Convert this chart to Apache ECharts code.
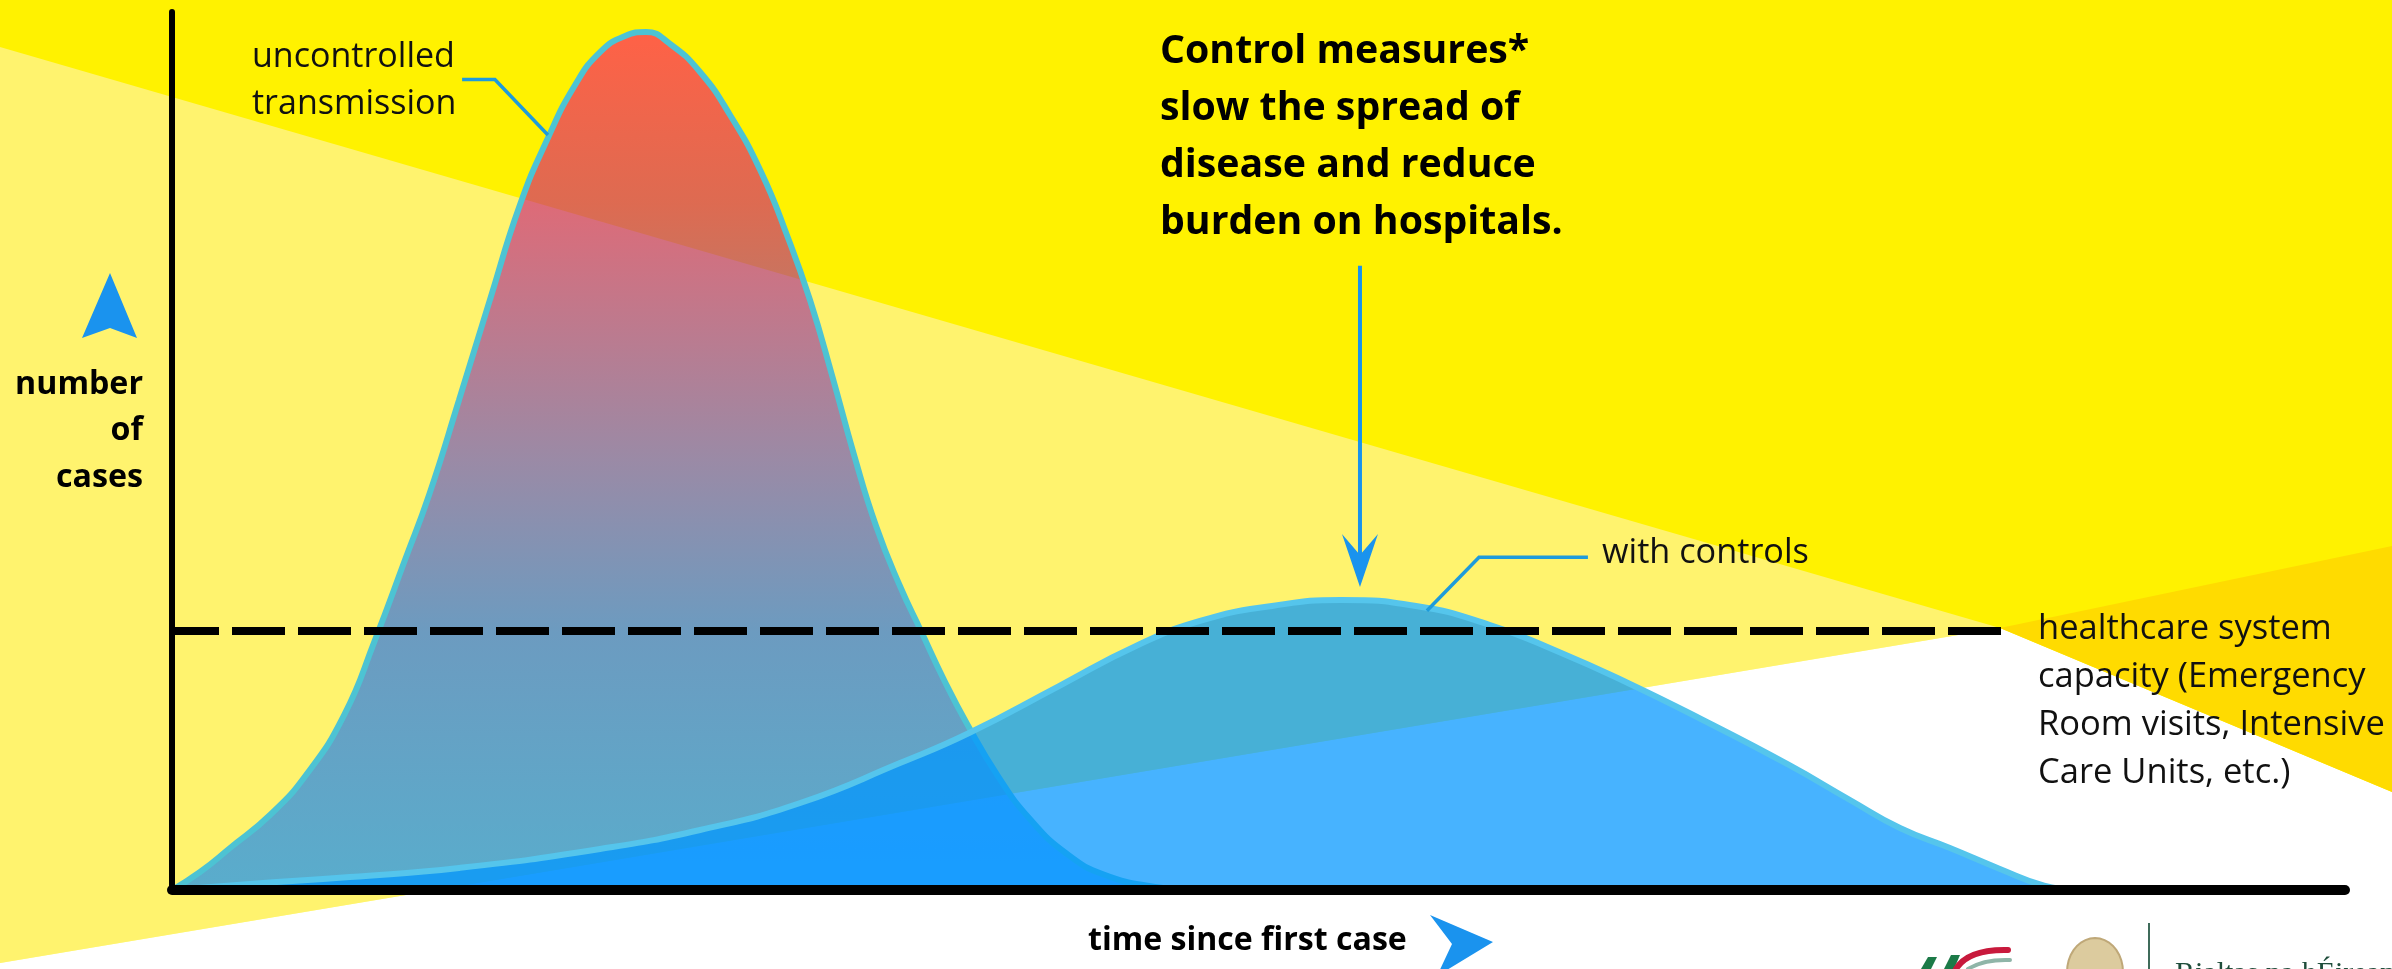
<!DOCTYPE html>
<html>
<head>
<meta charset="utf-8">
<style>
html,body{margin:0;padding:0;background:#FFF200;overflow:hidden}
#c{width:2392px;height:969px}
</style>
<script src="https://cdn.jsdelivr.net/npm/echarts@6.0.0/dist/echarts.min.js"></script>
</head>
<body>
<div id="c"></div>
<script>
// ---------------- DATA ----------------
const uncontrolledX = [0, 1.29, 2.67, 4.51, 6.17, 7.92, 9.34, 10.72, 11.83, 13.21, 14.63, 16.01, 17.30, 18.55, 19.70, 20.85, 21.81, 22.92, 24.30, 25.68, 27.11, 28.35, 29.36, 30.37, 31.39, 32.40, 33.50, 34.47, 35.53, 36.59, 38.01, 39.44, 41.19, 42.94, 45.24, 46.85];
const uncontrolledY = [0, 2.05, 4.78, 8.54, 13.10, 19.93, 28.47, 37.59, 44.99, 55.81, 67.20, 78.02, 85.65, 91.69, 95.44, 97.27, 97.72, 96.36, 93.17, 88.27, 81.78, 74.26, 67.20, 58.66, 49.54, 41.46, 34.62, 29.50, 23.92, 18.91, 12.98, 8.20, 4.10, 1.71, 0.34, 0];
const withControlsX = [0, 3.59, 8.19, 13.21, 19.70, 24.30, 28.91, 33.50, 36.68, 40.82, 44.36, 47.31, 50.62, 53.80, 57.25, 60.65, 63.83, 67.00, 70.45, 74.41, 77.22, 79.52, 81.82, 84.12, 86.15, 87.58];
const withControlsY = [0, 0.68, 1.48, 2.51, 4.67, 6.83, 9.91, 14.46, 17.88, 23.23, 27.79, 30.64, 32.35, 33.03, 32.35, 30.18, 27.11, 23.58, 19.36, 14.24, 10.25, 7.06, 4.78, 2.40, 0.50, 0];
const capacityX = [0, 84.5];
const capacityY = [29.5, 29.5];

const labelUncontrolled = ['uncontrolled', 'transmission'];
const labelHeading = ['Control measures*', 'slow the spread of', 'disease and reduce', 'burden on hospitals.'];
const labelControls = ['with controls'];
const labelCapacity = ['healthcare system', 'capacity (Emergency', 'Room visits, Intensive', 'Care Units, etc.)'];
const labelYAxis = ['number', 'of', 'cases'];
const labelXAxis = ['time since first case'];
const labelLogo = ['Rialtas na hÉireann'];

// ---------------- LAYOUT / STYLE ----------------
const SANS = '"Open Sans", "Noto Sans", sans-serif';
const SERIF = '"Liberation Serif", "DejaVu Serif", serif';
const ARROW_BLUE = '#1A93EE';
const LEADER = '#1E9BDB';

const chart = echarts.init(document.getElementById('c'), null, {renderer: 'canvas', width: 2392, height: 969});
const zip = (xs, ys) => xs.map((x, i) => [x, ys[i]]);

const redGrad = new echarts.graphic.LinearGradient(0, 0, 0, 1, [
  {offset: 0, color: 'rgba(255,20,108,0.65)'},
  {offset: 0.2, color: 'rgba(203,34,125,0.65)'},
  {offset: 0.5, color: 'rgba(100,82,196,0.65)'},
  {offset: 0.7, color: 'rgba(29,108,236,0.65)'},
  {offset: 1, color: 'rgba(0,135,255,0.65)'}
]);

chart.setOption({
  animation: false,
  backgroundColor: '#FFF200',
  grid: {left: 172, right: 47, top: 12, bottom: 79, containLabel: false, outerBoundsMode: 'none'},
  xAxis: {
    type: 'value', min: 0, max: 100, z: 10,
    axisLine: {show: true, onZero: false, lineStyle: {color: '#000', width: 10}},
    axisTick: {show: false}, axisLabel: {show: false}, splitLine: {show: false}
  },
  yAxis: {
    type: 'value', min: 0, max: 100, z: 10,
    axisLine: {show: true, onZero: false, lineStyle: {color: '#000', width: 6}},
    axisTick: {show: false}, axisLabel: {show: false}, splitLine: {show: false}
  },
  series: [
    {
      name: 'uncontrolled transmission', type: 'line', data: zip(uncontrolledX, uncontrolledY),
      smooth: 0.5, symbol: 'none', showSymbol: false, z: 2,
      lineStyle: {color: '#4DC3D3', width: 6},
      areaStyle: {color: redGrad, opacity: 1}
    },
    {
      name: 'with controls', type: 'line', data: zip(withControlsX, withControlsY),
      smooth: 0.5, symbol: 'none', showSymbol: false, z: 3,
      lineStyle: {color: '#55C5EC', width: 6},
      areaStyle: {color: 'rgba(0,150,255,0.72)', opacity: 1}
    },
    {
      name: 'healthcare system capacity', type: 'line', data: zip(capacityX, capacityY),
      symbol: 'none', showSymbol: false, z: 4,
      lineStyle: {color: '#000', width: 8, type: [53, 13], dashOffset: 6}
    }
  ]
});

// ---------- annotations ----------
const mctx = document.createElement('canvas').getContext('2d');
function fitSize(ref, weight, family, target) {
  mctx.font = weight + ' 100px ' + family;
  return 100 * target / mctx.measureText(ref).width;
}
function midOffset(weight, size, family) {
  mctx.font = weight + ' ' + size + 'px ' + family;
  mctx.textBaseline = 'alphabetic';
  const m = mctx.measureText('Hxg');
  const a = m.fontBoundingBoxAscent, d = m.fontBoundingBoxDescent;
  return (a != null && d != null) ? (a - d) / 2 : size * 0.36;
}
function textBlock(lines, o) {
  const size = o.size || fitSize(o.ref, o.weight, o.family, o.target);
  const off = midOffset(o.weight, size, o.family);
  return lines.map((t, i) => ({
    type: 'text', x: o.x, y: o.baseline + i * (o.spacing || 0) - off, z: 100, silent: true,
    style: {
      text: t, fill: o.fill || '#111', fontSize: size, fontFamily: o.family, fontWeight: o.weight,
      align: o.align || 'left', verticalAlign: 'middle', textAlign: o.align || 'left', textVerticalAlign: 'middle'
    }
  }));
}
const px = p => chart.convertToPixel({gridIndex: 0}, p);

// annotation anchors in data space
const leaderUncontrolled = [[13.35, 92.3], [14.86, 92.3], [17.30, 86.0]];
const leaderControls = [[65.16, 37.9], [60.15, 37.9], [57.75, 31.8]];
const controlArrowFrom = [54.67, 71.1];
const controlArrowTo = [54.67, 34.5];

const tip = px(controlArrowTo), from = px(controlArrowFrom);

// harp outline (half-ellipse) for the logo fragment
const harpPts = [];
for (let a = 0; a <= 180; a += 10) {
  const r = a * Math.PI / 180;
  harpPts.push([2095 + 28 * Math.cos(r), 972 - 34 * Math.sin(r)]);
}

const graphics = [
  // background rays
  {type: 'polygon', z: -10, silent: true, shape: {points: [[0, 47], [2000, 628], [0, 963]]}, style: {fill: '#FFF36E'}},
  {type: 'polygon', z: -10, silent: true, shape: {points: [[0, 963], [2000, 628], [2392, 792], [2392, 969], [0, 969]]}, style: {fill: '#FFFFFF'}},
  {type: 'polygon', z: -10, silent: true, shape: {points: [[2000, 628], [2392, 546], [2392, 792]]}, style: {fill: '#FFDB00'}},

  // leaders
  {type: 'polyline', z: 90, silent: true, shape: {points: leaderUncontrolled.map(px)}, style: {stroke: LEADER, lineWidth: 3.5, fill: null}},
  {type: 'polyline', z: 90, silent: true, shape: {points: leaderControls.map(px)}, style: {stroke: LEADER, lineWidth: 3.5, fill: null}},

  // control measures arrow
  {type: 'line', z: 90, silent: true, shape: {x1: from[0], y1: from[1], x2: tip[0], y2: tip[1] - 30}, style: {stroke: ARROW_BLUE, lineWidth: 4}},
  {type: 'polygon', z: 90, silent: true, shape: {points: [[tip[0], tip[1]], [tip[0] + 18, tip[1] - 53], [tip[0], tip[1] - 32], [tip[0] - 18, tip[1] - 53]]}, style: {fill: ARROW_BLUE}},

  // axis arrows
  {type: 'polygon', z: 90, silent: true, shape: {points: [[110, 273], [137, 338], [110, 328], [82, 338]]}, style: {fill: ARROW_BLUE}},
  {type: 'polygon', z: 90, silent: true, shape: {points: [[1493, 942], [1437, 976], [1452, 944], [1430, 915]]}, style: {fill: ARROW_BLUE}},

  // logo fragments
  {type: 'polygon', z: 90, silent: true, shape: {points: [[1921, 969], [1928, 957], [1937, 957], [1931, 969]]}, style: {fill: '#1C7A48'}},
  {type: 'polygon', z: 90, silent: true, shape: {points: [[1944, 969], [1951, 955], [1960, 955], [1954, 969]]}, style: {fill: '#1C7A48'}},
  {type: 'bezierCurve', z: 90, silent: true, shape: {x1: 1956, y1: 969, cpx1: 1968, cpy1: 949, x2: 2008, y2: 950}, style: {stroke: '#C8193C', lineWidth: 6, fill: null, lineCap: 'round'}},
  {type: 'bezierCurve', z: 90, silent: true, shape: {x1: 1968, y1: 969, cpx1: 1984, cpy1: 959, x2: 2010, y2: 960}, style: {stroke: '#8FB5A8', lineWidth: 4, fill: null, lineCap: 'round'}},
  {type: 'polygon', z: 90, silent: true, shape: {points: harpPts}, style: {fill: '#DCCB9E', stroke: '#BFA878', lineWidth: 2}},
  {type: 'line', z: 90, silent: true, shape: {x1: 2149, y1: 923, x2: 2149, y2: 969}, style: {stroke: '#3F6B5A', lineWidth: 2}}
];

graphics.push(...textBlock(labelUncontrolled, {ref: 'uncontrolled', target: 203, weight: 'normal', family: SANS, x: 252, baseline: 70, spacing: 47}));
graphics.push(...textBlock(labelHeading, {ref: 'burden on hospitals.', target: 403, weight: 'bold', family: SANS, x: 1160, baseline: 67, spacing: 57, fill: '#000'}));
graphics.push(...textBlock(labelControls, {ref: 'with controls', target: 207, weight: 'normal', family: SANS, x: 1602, baseline: 567}));
graphics.push(...textBlock(labelCapacity, {ref: 'Room visits, Intensive', target: 347, weight: 'normal', family: SANS, x: 2038, baseline: 642.7, spacing: 48}));
graphics.push(...textBlock(labelYAxis, {ref: 'number', target: 128, weight: 'bold', family: SANS, x: 143, baseline: 397, spacing: 46.5, align: 'right', fill: '#000'}));
graphics.push(...textBlock(labelXAxis, {ref: 'time since first case', target: 319, weight: 'bold', family: SANS, x: 1088, baseline: 953, fill: '#000'}));
graphics.push(...textBlock(labelLogo, {size: 30, weight: 'normal', family: SERIF, x: 2175, baseline: 985, fill: '#1F4D3B'}));

chart.setOption({graphic: graphics});
</script>
</body>
</html>
